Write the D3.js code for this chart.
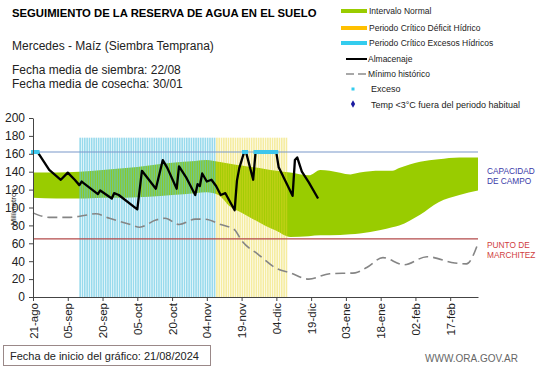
<!DOCTYPE html>
<html><head><meta charset="utf-8">
<script src="https://cdn.jsdelivr.net/npm/d3@7"></script>
<style>
body{margin:0;background:#fff;}
svg{display:block;font-family:"Liberation Sans",Arial,sans-serif;}
</style></head><body>
<svg id="c" width="541" height="368"></svg>
<script>
// ---------- DATA ----------
const startDate = "2024-08-21";
const endDate = "2025-03-01";
const capacidadCampo = 162;
const puntoMarchitez = 65;
const yTicks = [0,20,40,60,80,100,120,140,160,180,200];
const xTickLabels = ["21-ago","05-sep","20-sep","05-oct","20-oct","04-nov","19-nov","04-dic","19-dic","03-ene","18-ene","02-feb","17-feb"];
const xTickDays = [0,15,30,45,60,75,90,105,120,135,150,165,180];

// Intervalo normal (band)
const bandDays  = [0,10,20,30,40,50,60,70,75,80,85,90,95,100,105,111,119,124,128,137,141,150,155,158,167,175,184,192];
const bandUpper = [139,139,140,142,144,147,150,152,153,151,149,147,145,143,141,139,136,142,141,137,139,141,141,144,151,154,156,156];
const bandLower = [111,110,110,111,111,112,114,116,117,114,101,94,87,80,74,67,68,69,69,70,71,75,78,80,92,106,114,119];

// Periodos críticos (day offsets, inclusive)
const periodoExcesos = [20, 78];
const periodoDeficit = [79, 109];
const periodoTop = 178;

// Almacenaje
const almDays  = [0,2,7,12,15,18,20,21,28,29,34,35,37,45,47,53,56,58,62,63,66,70,71,72,73,75,77,79,81,83,87,88,89,91,92,95,96,105,106,112,113,114,116,119,123];
const almValue = [162,162,142,131,139,131,125,129,115,119,110,116,114,98,141,121,153,144,121,146,134,114,126,124,138,129,131,124,114,116,97,130,144,161,161,131,161,161,145,113,153,156,140,128,110];

// Mínimo histórico
const minDays  = [0,7,16,22,27,33,42,46,53,57,63,70,74,81,87,90,97,105,111,119,128,139,144,151,160,170,182,187,192];
const minValue = [94,89,89,91,93,88,81,78,86,88,81,87,87,81,75,63,48,32,27,20,26,27,33,44,36,45,38,37,60];

// Exceso (days)
const excesoDays = [0,1,2,91,92,96,97,98,99,100,101,102,103,104,105];

// ---------- CHART ----------
const svg = d3.select("#c");
const t0 = d3.timeParse("%Y-%m-%d")(startDate);
const t1 = d3.timeParse("%Y-%m-%d")(endDate);
const D = d => d3.timeDay.offset(t0, d);

const x = d3.scaleTime().domain([t0, t1]).range([33, 478]);
const y = d3.scaleLinear().domain([0, 200]).range([297, 118]);
const dayW = x(D(1)) - x(D(0));

// band
const bandData = bandDays.map((d,i)=>({d, u:bandUpper[i], l:bandLower[i]}));
svg.append("path")
  .datum(bandData)
  .attr("fill","#99cc00")
  .attr("d", d3.area().x(p=>x(D(p.d))).y0(p=>y(p.l)).y1(p=>y(p.u)).curve(d3.curveMonotoneX));

// stripes
function stripes(period, color, op){
  const days = d3.range(period[0], period[1]+1);
  svg.append("g").selectAll("rect").data(days).join("rect")
    .attr("x", d=>x(D(d)))
    .attr("width", dayW*0.7)
    .attr("y", y(periodoTop))
    .attr("height", y(0)-y(periodoTop))
    .attr("fill", color)
    .attr("opacity", op);
}
stripes(periodoExcesos, "#58c4e0", 0.62);
stripes(periodoDeficit, "#e9d52c", 0.45);

// reference lines
svg.append("line").attr("x1",x(t0)).attr("x2",x(t1)).attr("y1",y(capacidadCampo)).attr("y2",y(capacidadCampo))
  .attr("stroke","#7b97c9").attr("stroke-width",1.2);
svg.append("line").attr("x1",x(t0)).attr("x2",x(t1)).attr("y1",y(puntoMarchitez)).attr("y2",y(puntoMarchitez))
  .attr("stroke","#b34a4a").attr("stroke-width",1.2);

// minimo historico
svg.append("path")
  .datum(minDays.map((d,i)=>({d, v:minValue[i]})))
  .attr("fill","none").attr("stroke","#858585").attr("stroke-width",1.6)
  .attr("stroke-dasharray","10,5")
  .attr("d", d3.line().x(p=>x(D(p.d))).y(p=>y(p.v)).curve(d3.curveMonotoneX));

// almacenaje
svg.append("path")
  .datum(almDays.map((d,i)=>({d, v:almValue[i]})))
  .attr("fill","none").attr("stroke","#000").attr("stroke-width",2.3)
  .attr("stroke-linejoin","round")
  .attr("d", d3.line().x(p=>x(D(p.d))).y(p=>y(p.v)));

// exceso markers
svg.append("g").selectAll("rect").data(excesoDays).join("rect")
  .attr("x", d=>x(D(d))-2)
  .attr("y", y(capacidadCampo)-2)
  .attr("width", dayW+1.6)
  .attr("height", 4)
  .attr("fill","#3ec6ec");

// axes
const yAxis = d3.axisLeft(y).tickValues(yTicks).tickSize(4).tickSizeOuter(0);
const gy = svg.append("g").attr("transform",`translate(${x(t0)},0)`).call(yAxis);
gy.select(".domain").attr("stroke","#444");
gy.selectAll(".tick line").attr("stroke","#444");
gy.selectAll("text").attr("font-size",12).attr("fill","#222").attr("font-family","Liberation Sans, Arial, sans-serif").attr("dx",-1);

const xAxis = d3.axisBottom(x).tickValues(xTickDays.map(D)).tickSize(4).tickSizeOuter(0)
  .tickFormat((d,i)=>xTickLabels[i]);
const gx = svg.append("g").attr("transform",`translate(0,${y(0)})`).call(xAxis);
gx.select(".domain").attr("stroke","#444");
gx.selectAll(".tick line").attr("stroke","#444");
gx.selectAll("text")
  .attr("font-size",11.5).attr("fill","#222").attr("font-family","Liberation Sans, Arial, sans-serif")
  .attr("transform","rotate(-90)")
  .attr("text-anchor","end").attr("dy","0.35em").attr("x",-6).attr("y",0);

// y title
svg.append("text").attr("transform","translate(16,207) rotate(-90)")
  .attr("text-anchor","middle").attr("font-size",8).attr("fill","#222").text("Milímetros");

// side labels
const sideB = svg.append("text").attr("font-size",8.3).attr("fill","#3a3aa8");
sideB.append("tspan").attr("x",487).attr("y",174).text("CAPACIDAD");
sideB.append("tspan").attr("x",487).attr("y",184).text("DE  CAMPO");
const sideR = svg.append("text").attr("font-size",8.3).attr("fill","#d04040");
sideR.append("tspan").attr("x",487).attr("y",248).text("PUNTO  DE");
sideR.append("tspan").attr("x",487).attr("y",258).text("MARCHITEZ");

// titles
svg.append("text").attr("x",12).attr("y",17).attr("font-size",11.3).attr("font-weight","bold").attr("fill","#000")
  .text("SEGUIMIENTO DE LA RESERVA DE AGUA  EN EL SUELO");
svg.append("text").attr("x",12).attr("y",50).attr("font-size",12).attr("fill","#222")
  .text("Mercedes - Maíz  (Siembra Temprana)");
svg.append("text").attr("x",12).attr("y",74).attr("font-size",12).attr("fill","#222")
  .text("Fecha media de siembra: 22/08");
svg.append("text").attr("x",12).attr("y",88).attr("font-size",12).attr("fill","#222")
  .text("Fecha media de cosecha: 30/01");

// legend
const lg = svg.append("g").attr("font-size",8.5).attr("fill","#222");
const patches = [["#99cc00","Intervalo Normal",11],["#ffc000","Periodo Crítico Déficit Hídrico",28],["#33ccee","Periodo Crítico Excesos Hídricos",43]];
patches.forEach(p=>{
  lg.append("rect").attr("x",341).attr("y",p[2]-2).attr("width",26).attr("height",4).attr("fill",p[0]);
  lg.append("text").attr("x",369).attr("y",p[2]+3).text(p[1]);
});
lg.append("line").attr("x1",346).attr("x2",367).attr("y1",59).attr("y2",59).attr("stroke","#000").attr("stroke-width",2);
lg.append("text").attr("x",368).attr("y",62).text("Almacenaje");
lg.append("line").attr("x1",346).attr("x2",366).attr("y1",74).attr("y2",74).attr("stroke","#8c8c8c").attr("stroke-width",1.6).attr("stroke-dasharray","8,4");
lg.append("text").attr("x",368).attr("y",77).text("Mínimo histórico");
lg.append("rect").attr("x",351.5).attr("y",87.5).attr("width",3).attr("height",3).attr("fill","#33ccee");
lg.append("text").attr("x",371).attr("y",92).attr("font-size",9).text("Exceso");
lg.append("path").attr("d",d3.symbol(d3.symbolDiamond,16)()).attr("transform","translate(353,104)").attr("fill","#1a1aa0");
lg.append("text").attr("x",371).attr("y",107.5).attr("font-size",9).text("Temp <3°C fuera del periodo habitual");

// footer
svg.append("rect").attr("x",3.5).attr("y",345.5).attr("width",207).attr("height",20).attr("fill","#fff").attr("stroke","#9a8888");
svg.append("text").attr("x",10).attr("y",360).attr("font-size",11).attr("fill","#222")
  .text("Fecha de inicio del gráfico:  21/08/2024");
svg.append("text").attr("x",425).attr("y",362).attr("font-size",10).attr("fill","#666")
  .text("WWW.ORA.GOV.AR");
</script></body></html>
